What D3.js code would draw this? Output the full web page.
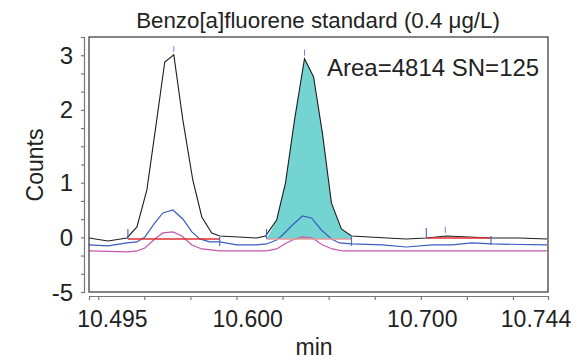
<!DOCTYPE html>
<html>
<head>
<meta charset="utf-8">
<script src="https://cdn.jsdelivr.net/npm/d3@7"></script>
<style>
  body { margin: 0; background: #fff; }
  text { font-family: "Liberation Sans", Arial, Helvetica, sans-serif; fill: #222; }
</style>
</head>
<body>
<div id="chart"></div>
<script>
var svgWidth = 577;
var svgHeight = 362;

// retention time (min) and signal for the three traces
var blackT = [10.4950, 10.5053, 10.5156, 10.5210, 10.5264, 10.5313, 10.5361, 10.5410, 10.5459, 10.5513,
  10.5562, 10.5616, 10.5659, 10.5762, 10.5859, 10.5908, 10.5968, 10.6016, 10.6065, 10.6119,
  10.6168, 10.6217, 10.6265, 10.6319, 10.6374, 10.6471, 10.6568, 10.6671, 10.6780, 10.6888,
  10.7012, 10.7131, 10.7283, 10.7435];
var blackV = [-0.011, -0.066, -0.011, 0.190, 0.868, 2.04, 3.21, 3.34, 2.15, 1.05,
  0.373, 0.081, 0.026, 0.007, -0.011, 0.026, 0.318, 0.996, 2.15, 3.27,
  2.94, 1.89, 0.63, 0.154, 0.026, 0.007, -0.011, -0.029, -0.011, 0.026,
  0.007, -0.011, -0.011, -0.029];

var blueT = [10.4950, 10.5053, 10.5156, 10.5210, 10.5253, 10.5307, 10.5351, 10.5405, 10.5459, 10.5508,
  10.5551, 10.5605, 10.5659, 10.5751, 10.5859, 10.5913, 10.5968, 10.6000, 10.6054, 10.6108,
  10.6157, 10.6211, 10.6265, 10.6309, 10.6374, 10.6542, 10.6671, 10.6812, 10.6920, 10.7028,
  10.7137, 10.7435];
var blueV = [-0.139, -0.157, -0.102, -0.084, 0.007, 0.264, 0.447, 0.501, 0.337, 0.099,
  -0.029, -0.084, -0.084, -0.139, -0.139, -0.121, -0.048, 0.044, 0.227, 0.392,
  0.355, 0.135, -0.029, -0.102, -0.121, -0.139, -0.176, -0.139, -0.139, -0.102,
  -0.121, -0.139];

var pinkT = [10.4950, 10.5161, 10.5210, 10.5253, 10.5307, 10.5351, 10.5405, 10.5454, 10.5508, 10.5562,
  10.5659, 10.5913, 10.5968, 10.6011, 10.6054, 10.6108, 10.6162, 10.6217, 10.6271, 10.6325,
  10.7435];
var pinkV = [-0.249, -0.267, -0.249, -0.194, -0.029, 0.081, 0.099, 0.026, -0.139, -0.212,
  -0.249, -0.249, -0.212, -0.121, -0.048, 0.007, -0.011, -0.139, -0.212, -0.249,
  -0.249];

// integrated peaks: start, apex, end, baseline level
var peakStart = [10.5161, 10.5913, 10.6780];
var peakApex = [10.5410, 10.6119, 10.6883];
var peakEnd = [10.5659, 10.6374, 10.7131];
var peakBase = [-0.029, -0.029, -0.011];
var peakFilled = [false, true, false];

// axis ticks and labels
var xTicks = [10.495, 10.500, 10.525, 10.550, 10.575, 10.600, 10.625, 10.650, 10.675, 10.700, 10.725, 10.744];
var xLabels = ["10.495", "10.600", "10.700", "10.744"];
var xLabelAt = [10.5077, 10.5811, 10.6758, 10.7375];
var yTickSteps = d3.range(-3, 12);
var yLabelSteps = [10, 7, 3, 0, -3];
var yLabels = ["3", "2", "1", "0", "-5"];

var title = "Benzo[a]fluorene standard (0.4 \u03bcg/L)";
var note = "Area=4814 SN=125";

var margin = { top: 37, right: 29, bottom: 70, left: 89 };
var width = svgWidth - margin.left - margin.right;
var height = svgHeight - margin.top - margin.bottom;

var svg = d3.select("#chart")
  .append("svg")
  .attr("width", svgWidth)
  .attr("height", svgHeight);

var chartGroup = svg.append("g")
  .attr("transform", `translate(${margin.left}, ${margin.top})`);

var xScale = d3.scaleLinear()
  .domain([10.495, 10.744])
  .range([0, width]);

var yScale = d3.scaleLinear()
  .domain([-1, 11 / 3])
  .range([height, 0]);

function pts(ts, vs) {
  return ts.map((t, i) => ({ t: t, v: vs[i] }));
}

var line = d3.line()
  .x(d => xScale(d.t))
  .y(d => yScale(d.v));

// filled peak
var black = pts(blackT, blackV);
peakStart.forEach(function(s, i) {
  if (!peakFilled[i]) return;
  var seg = black.filter(d => d.t >= s && d.t <= peakEnd[i]);
  seg.unshift({ t: s, v: peakBase[i] });
  seg.push({ t: peakEnd[i], v: peakBase[i] });
  chartGroup.append("path")
    .datum(seg)
    .attr("d", d3.area()
      .x(d => xScale(d.t))
      .y0(yScale(peakBase[i]))
      .y1(d => yScale(d.v)))
    .attr("fill", "#74d4d2");
});

// traces
chartGroup.append("path")
  .datum(pts(pinkT, pinkV))
  .attr("d", line)
  .attr("fill", "none")
  .attr("stroke", "#c457a9")
  .attr("stroke-width", 1.2);

chartGroup.append("path")
  .datum(pts(blueT, blueV))
  .attr("d", line)
  .attr("fill", "none")
  .attr("stroke", "#3b5cc0")
  .attr("stroke-width", 1.2);

chartGroup.append("path")
  .datum(black)
  .attr("d", line)
  .attr("fill", "none")
  .attr("stroke", "#1e1e1e")
  .attr("stroke-width", 1.1);

// baselines and event markers
peakStart.forEach(function(s, i) {
  var yb = yScale(peakBase[i]);
  chartGroup.append("line")
    .attr("x1", xScale(s)).attr("x2", xScale(peakEnd[i]))
    .attr("y1", yb).attr("y2", yb)
    .attr("stroke", peakFilled[i] ? "#e39a9a" : "#e0302e")
    .attr("stroke-width", 1.5);
  chartGroup.append("line")
    .attr("x1", xScale(s)).attr("x2", xScale(s))
    .attr("y1", yb).attr("y2", yb - 10)
    .attr("stroke", "#4a6cc8").attr("stroke-width", 1.2);
  chartGroup.append("line")
    .attr("x1", xScale(peakEnd[i])).attr("x2", xScale(peakEnd[i]))
    .attr("y1", yb - 2).attr("y2", yb + 7)
    .attr("stroke", "#4a6cc8").attr("stroke-width", 1.2);
  var apexV = d3.max(black.filter(d => d.t >= s && d.t <= peakEnd[i]), d => d.v);
  chartGroup.append("line")
    .attr("x1", xScale(peakApex[i])).attr("x2", xScale(peakApex[i]))
    .attr("y1", yScale(apexV) - 9).attr("y2", yScale(apexV) - 3)
    .attr("stroke", "#6d88d4").attr("stroke-width", 1);
});

// plot frame
chartGroup.append("rect")
  .attr("width", width)
  .attr("height", height)
  .attr("fill", "none")
  .attr("stroke", "#333")
  .attr("stroke-width", 1.2);

// y axis, set slightly apart from the frame
var yAxis = d3.axisLeft(yScale)
  .tickValues(yTickSteps.map(k => k / 3))
  .tickSize(3)
  .tickFormat("");
var yAxisG = chartGroup.append("g")
  .attr("transform", "translate(-5, 0)")
  .call(yAxis);
yAxisG.selectAll("path, line").attr("stroke", "#777").attr("stroke-width", 1.2);

chartGroup.selectAll(".ylab")
  .data(yLabelSteps)
  .enter()
  .append("text")
  .attr("class", "ylab")
  .attr("x", -16)
  .attr("y", d => yScale(d / 3))
  .attr("dy", "0.36em")
  .attr("text-anchor", "end")
  .style("font-size", "24px")
  .text((d, i) => yLabels[i]);

// x axis below the frame
var xAxis = d3.axisBottom(xScale)
  .tickValues(xTicks)
  .tickSize(4)
  .tickSizeOuter(0)
  .tickFormat("");
var xAxisG = chartGroup.append("g")
  .attr("transform", `translate(0, ${height + 4})`)
  .call(xAxis);
xAxisG.selectAll("path, line").attr("stroke", "#777").attr("stroke-width", 1.2);

chartGroup.selectAll(".xlab")
  .data(xLabelAt)
  .enter()
  .append("text")
  .attr("class", "xlab")
  .attr("x", d => xScale(d))
  .attr("y", height + 35)
  .attr("text-anchor", "middle")
  .style("font-size", "23px")
  .text((d, i) => xLabels[i]);

// titles
svg.append("text")
  .attr("x", 318)
  .attr("y", 28)
  .attr("text-anchor", "middle")
  .style("font-size", "22.3px")
  .text(title);

chartGroup.append("text")
  .attr("x", 238)
  .attr("y", 39)
  .style("font-size", "24px")
  .text(note);

svg.append("text")
  .attr("x", 314)
  .attr("y", 355)
  .attr("text-anchor", "middle")
  .style("font-size", "23px")
  .text("min");

svg.append("text")
  .attr("transform", "translate(43, 165) rotate(-90)")
  .attr("text-anchor", "middle")
  .style("font-size", "23px")
  .text("Counts");
</script>
</body>
</html>
